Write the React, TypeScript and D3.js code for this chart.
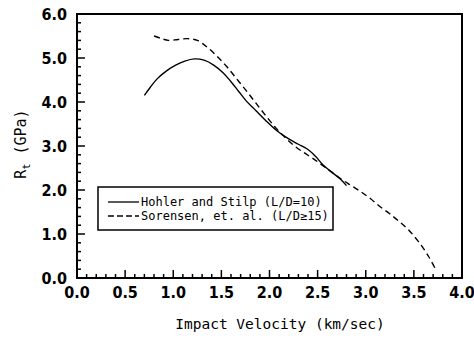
import React, { useRef, useEffect } from "react";
import * as d3 from "d3";

// Hohler and Stilp (L/D=10)
const hohlerV = [0.70, 0.76, 0.83, 0.92, 1.02, 1.12, 1.22, 1.32, 1.42, 1.52, 1.60, 1.68, 1.76, 1.86, 1.96, 2.08, 2.20, 2.30, 2.40, 2.48, 2.56, 2.65, 2.73, 2.80];
const hohlerR = [4.15, 4.33, 4.52, 4.69, 4.83, 4.93, 4.98, 4.95, 4.84, 4.66, 4.46, 4.24, 4.02, 3.80, 3.58, 3.34, 3.16, 3.04, 2.92, 2.76, 2.56, 2.40, 2.26, 2.10];

// Sorensen, et. al. (L/D>=15)
const sorensenV = [0.80, 0.88, 0.95, 1.05, 1.15, 1.25, 1.35, 1.45, 1.55, 1.65, 1.75, 1.85, 1.95, 2.05, 2.15, 2.25, 2.35, 2.45, 2.55, 2.65, 2.75, 2.85, 2.95, 3.05, 3.15, 3.25, 3.35, 3.45, 3.55, 3.65, 3.72];
const sorensenR = [5.50, 5.44, 5.40, 5.42, 5.44, 5.40, 5.25, 5.05, 4.82, 4.55, 4.28, 4.00, 3.72, 3.45, 3.22, 3.02, 2.86, 2.72, 2.56, 2.40, 2.24, 2.10, 1.96, 1.80, 1.62, 1.46, 1.28, 1.08, 0.82, 0.50, 0.22];

const xTicks = [0, 0.5, 1.0, 1.5, 2.0, 2.5, 3.0, 3.5, 4.0];
const yTicks = [0, 1, 2, 3, 4, 5, 6];
const legendLabels = ["Hohler and Stilp (L/D=10)", "Sorensen, et. al. (L/D\u226515)"];

export default function App() {
  const svgRef = useRef<SVGSVGElement>(null);
  const width = 474;
  const height = 338;

  useEffect(() => {
    const svg = d3.select(svgRef.current);
    svg.selectAll("*").remove();

    const margin = { top: 14, right: 12, bottom: 60, left: 77 };
    const w = width - margin.left - margin.right;
    const h = height - margin.top - margin.bottom;
    const font = "'DejaVu Sans Mono', monospace";
    const tickFont = "'DejaVu Sans Condensed', sans-serif";

    const g = svg.append("g").attr("transform", `translate(${margin.left},${margin.top})`);

    const x = d3.scaleLinear().domain([0, 4]).range([0, w]);
    const y = d3.scaleLinear().domain([0, 6]).range([h, 0]);

    // frame
    g.append("rect")
      .attr("width", w)
      .attr("height", h)
      .attr("fill", "none")
      .attr("stroke", "#000")
      .attr("stroke-width", 2);

    // ticks (inside)
    const xMinor = d3.range(0, 41).map((i) => i / 10);
    g.selectAll("line.xt")
      .data(xMinor)
      .join("line")
      .attr("x1", (d) => x(d))
      .attr("x2", (d) => x(d))
      .attr("y1", h)
      .attr("y2", (_, i) => h - (i % 5 === 0 ? 8 : 4))
      .attr("stroke", "#000")
      .attr("stroke-width", 1.5);

    const yMinor = d3.range(0, 31).map((i) => i / 5);
    g.selectAll("line.yt")
      .data(yMinor)
      .join("line")
      .attr("x1", 0)
      .attr("x2", (_, i) => (i % 5 === 0 ? 8 : 4))
      .attr("y1", (d) => y(d))
      .attr("y2", (d) => y(d))
      .attr("stroke", "#000")
      .attr("stroke-width", 1.5);

    // tick labels
    g.selectAll("text.xl")
      .data(xTicks)
      .join("text")
      .attr("x", (d) => x(d))
      .attr("y", h + 20)
      .attr("text-anchor", "middle")
      .attr("font-family", tickFont)
      .attr("font-size", 16)
      .attr("font-weight", "bold")
      .text((d) => d.toFixed(1));

    g.selectAll("text.yl")
      .data(yTicks)
      .join("text")
      .attr("x", -10)
      .attr("y", (d) => y(d) + 6)
      .attr("text-anchor", "end")
      .attr("font-family", tickFont)
      .attr("font-size", 16)
      .attr("font-weight", "bold")
      .text((d) => d.toFixed(1));

    // axis titles
    svg.append("text")
      .attr("x", 280)
      .attr("y", 329)
      .attr("text-anchor", "middle")
      .attr("font-family", font)
      .attr("font-size", 14.5)
      .text("Impact Velocity (km/sec)");

    const yt = svg.append("text")
      .attr("transform", "translate(26,144) rotate(-90)")
      .attr("text-anchor", "middle")
      .attr("font-family", font)
      .attr("font-size", 15);
    yt.append("tspan").text("R");
    yt.append("tspan").attr("font-size", 10).attr("dy", 4).text("t");
    yt.append("tspan").attr("dy", -4).text(" (GPa)");

    // curves
    const line = d3
      .line<[number, number]>()
      .x((d) => x(d[0]))
      .y((d) => y(d[1]))
      .curve(d3.curveCatmullRom);

    const hohler = hohlerV.map((v, i) => [v, hohlerR[i]] as [number, number]);
    const sorensen = sorensenV.map((v, i) => [v, sorensenR[i]] as [number, number]);

    g.append("path")
      .attr("d", line(hohler))
      .attr("fill", "none")
      .attr("stroke", "#000")
      .attr("stroke-width", 1.4);

    g.append("path")
      .attr("d", line(sorensen))
      .attr("fill", "none")
      .attr("stroke", "#000")
      .attr("stroke-width", 1.4)
      .attr("stroke-dasharray", "6,4");

    // legend
    const lg = svg.append("g").attr("transform", "translate(98,187)");
    lg.append("rect")
      .attr("width", 235)
      .attr("height", 43)
      .attr("fill", "#fff")
      .attr("stroke", "#000")
      .attr("stroke-width", 1.5);
    legendLabels.forEach((label, i) => {
      const ly = 15 + i * 14;
      lg.append("line")
        .attr("x1", 10)
        .attr("x2", 41)
        .attr("y1", ly)
        .attr("y2", ly)
        .attr("stroke", "#000")
        .attr("stroke-width", 1.3)
        .attr("stroke-dasharray", i === 1 ? "6,3" : null);
      lg.append("text")
        .attr("x", 43)
        .attr("y", ly + 4)
        .attr("font-family", font)
        .attr("font-size", 12)
        .text(label);
    });
  }, []);

  return (
    <svg
      ref={svgRef}
      width={width}
      height={height}
      style={{ position: "absolute", left: 0, top: 0, background: "#fff" }}
    />
  );
}
